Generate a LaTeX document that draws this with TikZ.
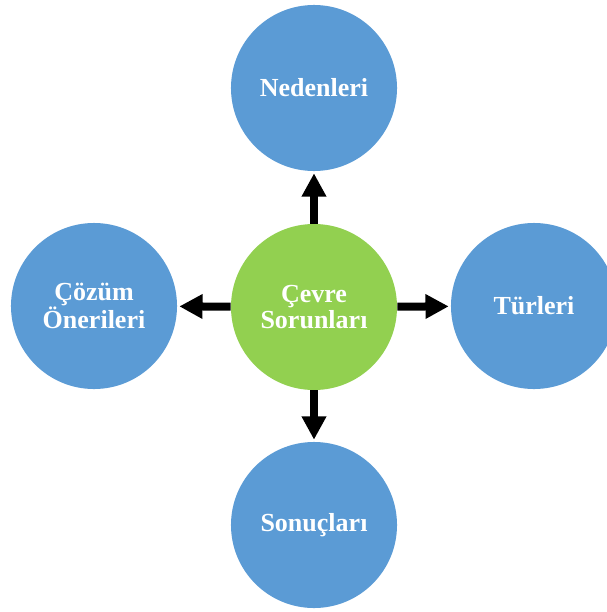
\documentclass[tikz,border=0pt]{standalone}
\usepackage{fontspec}
\setmainfont{Liberation Serif}
\usetikzlibrary{arrows.meta}
\definecolor{blue1}{HTML}{5B9BD5}
\definecolor{green1}{HTML}{92D050}

\begin{document}
\begin{tikzpicture}[
			x=0.025cm, y=-0.025cm,
			MyStyle/.style={circle, minimum size=4.15cm, inner sep=0pt,
				fill=blue1, text=white, align=center,
				font=\fontsize{18.5}{18.5}\selectfont\bfseries},
			C/.style={MyStyle, fill=green1},
			A/.style={line width=0.2cm, shorten >=0.05cm,
				-{Triangle[length=0.58cm, width=0.58cm]}},
			]
			\useasboundingbox (0,0) rectangle (606,612);
			
			\node [C] (c) at (314,307) {Çevre\\Sorunları};
			
			\node [MyStyle] (n) at (314,88) {Nedenleri};
			\node [MyStyle] (t) at (534,306) {Türleri};
			\node [MyStyle] (s) at (314,525) {Sonuçları};
			\node [MyStyle] (o) at (94,306) {Çözüm\\Önerileri};
			
			\draw[A] (c) -- (n);
			\draw[A] (c) -- (t);
			\draw[A] (c) -- (s);
			\draw[A] (c) -- (o);
		\end{tikzpicture}
\end{document}
